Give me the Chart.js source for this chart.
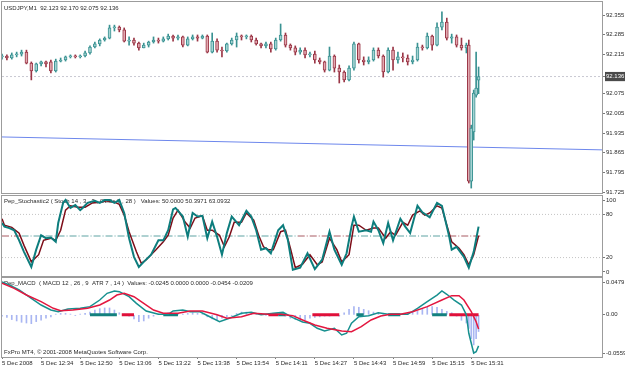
<!DOCTYPE html>
<html>
<head>
<meta charset="UTF-8">
<title>USDJPY,M1</title>
<style>
  body { margin: 0; background: #fff; }
  #wrap { position: relative; width: 625px; height: 368px; overflow: hidden; background: #fff; }
  canvas { position: absolute; left: 0; }
</style>
</head>
<body>
<div id="wrap">
  <canvas id="main" width="625" height="195" style="top:0px"></canvas>
  <canvas id="stoch" width="625" height="82" style="top:195px"></canvas>
  <canvas id="macd" width="625" height="91" style="top:277px"></canvas>
</div>
<script src="https://cdn.jsdelivr.net/npm/chart.js"></script>
<script>
// bar times, in minutes after 12:18
const candleMinutes = [0,2,4,6,8,10,12,14,16,18, 20,22,24,26,28,30,32,34,36,38,
  40,42,44,46,48,50,52,54,56,58, 60,62,64,66,68,70,72,74,76,78,
  80,82,84,86,88,90,92,94,96,98, 100,102,104,106,108,110,112,114,116,118,
  120,122,124,126,128,130,132,134,136,138, 140,142,144,146,148,150,152,154,156,158,
  160,162,164,166,168,170,172,174,176,178, 180,182,184,186,188,190, 191,192,193,194,195];

const opens = [92.206,92.209,92.202,92.213,92.216,92.223,92.184,92.156,92.181,92.188,
  92.188,92.156,92.191,92.195,92.206,92.209,92.206,92.209,92.220,92.241,
  92.252,92.266,92.273,92.309,92.312,92.302,92.262,92.266,92.255,92.238,
  92.248,92.259,92.266,92.262,92.270,92.280,92.273,92.277,92.248,92.270,
  92.277,92.273,92.280,92.223,92.262,92.230,92.227,92.252,92.266,92.280,
  92.277,92.280,92.266,92.252,92.245,92.252,92.234,92.266,92.284,92.248,
  92.238,92.223,92.230,92.213,92.216,92.195,92.188,92.159,92.209,92.166,
  92.152,92.124,92.166,92.252,92.195,92.188,92.195,92.230,92.209,92.152,
  92.230,92.195,92.206,92.202,92.188,92.195,92.241,92.238,92.280,92.248,
  92.312,92.330,92.273,92.277,92.248,92.238, 92.248,91.764,91.939,92.070,92.123];

const highs = [92.216,92.213,92.220,92.223,92.230,92.230,92.188,92.184,92.191,92.191,
  92.195,92.198,92.202,92.209,92.213,92.213,92.213,92.227,92.245,92.259,
  92.270,92.277,92.319,92.319,92.316,92.309,92.277,92.273,92.259,92.255,
  92.262,92.277,92.273,92.277,92.287,92.284,92.284,92.280,92.277,92.284,
  92.284,92.284,92.284,92.291,92.270,92.241,92.255,92.273,92.291,92.284,
  92.284,92.284,92.273,92.255,92.259,92.259,92.273,92.323,92.291,92.252,
  92.245,92.238,92.238,92.223,92.227,92.202,92.191,92.241,92.213,92.177,
  92.156,92.174,92.259,92.255,92.206,92.206,92.238,92.238,92.213,92.238,
  92.241,92.223,92.220,92.213,92.209,92.255,92.248,92.291,92.284,92.327,
  92.366,92.344,92.287,92.284,92.273,92.255, 92.266,91.963,92.088,92.223,92.170];

const lows = [92.198,92.195,92.198,92.206,92.209,92.181,92.124,92.152,92.174,92.170,
  92.149,92.152,92.188,92.191,92.202,92.202,92.202,92.206,92.216,92.238,
  92.245,92.262,92.270,92.298,92.295,92.259,92.248,92.248,92.230,92.238,
  92.241,92.255,92.255,92.259,92.266,92.262,92.266,92.241,92.245,92.266,
  92.262,92.270,92.220,92.220,92.223,92.206,92.223,92.248,92.241,92.266,
  92.270,92.259,92.248,92.238,92.238,92.223,92.230,92.262,92.241,92.230,
  92.213,92.216,92.202,92.206,92.184,92.181,92.152,92.156,92.152,92.113,
  92.117,92.120,92.159,92.184,92.177,92.181,92.191,92.202,92.134,92.149,
  92.159,92.184,92.188,92.177,92.181,92.191,92.230,92.234,92.230,92.245,
  92.302,92.266,92.255,92.241,92.230,92.220, 91.757,91.739,91.910,92.063,92.075];

const closes = [92.209,92.202,92.213,92.216,92.223,92.184,92.156,92.181,92.188,92.181,
  92.156,92.191,92.195,92.206,92.209,92.206,92.209,92.220,92.241,92.252,
  92.266,92.273,92.309,92.312,92.302,92.262,92.266,92.255,92.238,92.248,
  92.259,92.266,92.262,92.270,92.280,92.273,92.277,92.248,92.270,92.277,
  92.273,92.280,92.223,92.262,92.230,92.227,92.252,92.266,92.280,92.277,
  92.280,92.266,92.252,92.245,92.252,92.234,92.266,92.284,92.248,92.238,
  92.223,92.230,92.213,92.216,92.195,92.188,92.159,92.209,92.166,92.152,
  92.124,92.166,92.252,92.195,92.188,92.195,92.230,92.209,92.152,92.230,
  92.195,92.206,92.202,92.188,92.195,92.241,92.238,92.280,92.248,92.312,
  92.330,92.273,92.277,92.248,92.238,92.248, 91.764,91.953,92.077,92.095,92.136];

const lastPrice = 92.136;
const trendStart = 91.921;   // blue trend line at the left edge
const trendEnd = 91.875;     // and at the right edge
const priceTicks = [91.725, 91.795, 91.865, 91.935, 92.005, 92.075, 92.136, 92.215, 92.285, 92.355];

// stochastic
const kMin = [0,1,3,5,7,9,12,14,16,18,20,22,23,25,26,28,30,32,33,35,38,40,42,44,46,48,50,52,54,56,
  58,61,64,66,68,70,71,74,76,78,80,82,84,86,88,90,92,94,97,100,102,104,106,108,110,113,115,117,119,122,
  125,128,131,134,136,139,141,143,144,146,149,151,152,154,156,158,160,163,165,167,170,172,175,178,180,
  183,184,186,189,191,193,195];
const kVal = [68,63,61,58,44,28,7,31,51,47,48,42,68,96,100,89,93,86,89,96,99,96,100,100,96,100,82,47,21,7,
  14,24,44,44,58,87,89,77,49,82,77,78,47,70,49,24,54,77,65,85,77,58,31,33,26,58,65,44,3,6,
  26,4,17,56,31,10,26,63,77,56,58,56,70,58,40,68,44,74,63,54,92,83,76,96,92,
  49,31,35,21,6,28,63.09];
const dMin = [0,1,4,7,9,12,15,17,20,22,24,26,28,31,34,37,40,43,46,48,50,52,55,57,59,63,66,68,70,72,
  75,77,79,82,84,86,89,91,93,95,98,100,103,105,107,109,111,114,116,118,120,123,126,129,131,134,137,139,142,144,
  146,149,152,154,157,159,161,164,166,168,171,173,175,178,180,182,184,187,189,191,193,195];
const dVal = [74,65,62,54,37,14,24,44,47,44,58,86,92,90,90,96,97,99,97,94,79,56,28,12,17,31,42,51,75,86,
  69,61,75,78,58,58,51,35,49,69,69,82,72,51,35,31,31,56,58,33,6,11,24,10,14,47,31,14,24,65,
  65,58,61,61,47,56,51,69,65,79,85,79,82,92,89,65,42,33,24,10,24,50.40];
const stochLevels = [20, 80];
const midRed = [[0, 8], [121, 142], [183, 196]];
const midTeal = [[8, 121], [142, 183]];

// MACD
const macdMin = [0,3,7,12,16,20,23,27,32,36,40,43,46,48,52,55,59,64,68,70,74,77,81,85,89,93,98,102,106,111,
  115,119,123,126,129,132,136,139,141,143,146,150,154,158,162,166,170,174,178,180,182,185,188,190,191,193,194,195];
const macdVal = [0.0479,0.0436,0.0363,0.0241,0.0143,0.0070,0.0045,0.0085,0.0095,0.0119,
  0.0216,0.0314,0.0348,0.0338,0.0265,0.0168,0.0056,0.0007,0.0007,0.0056,
  0.0070,0.0045,0.0045,-0.0028,-0.0101,-0.0051,0.0022,0.0036,0.0000,0.0022,
  0.0036,-0.0042,-0.0105,-0.0124,-0.0197,-0.0237,-0.0197,-0.0295,-0.0270,-0.0124,
  -0.0028,-0.0013,0.0031,0.0007,0.0007,0.0007,0.0095,0.0192,0.0289,0.0348,
  0.0300,0.0216,0.0143,0.0000,-0.0270,-0.0559,-0.0540,-0.0454];
const sigMin = [0,5,10,16,21,24,29,35,40,44,47,50,54,58,62,66,72,77,82,88,92,98,103,109,114,119,123,128,133,139,
  143,147,151,155,159,163,168,174,180,184,187,189,192,194,195];
const sigVal = [0.0461,0.0387,0.0289,0.0192,0.0095,0.0060,0.0070,0.0095,0.0143,0.0216,
  0.0289,0.0314,0.0265,0.0168,0.0070,0.0022,0.0022,0.0056,0.0056,0.0000,
  -0.0051,-0.0028,0.0022,0.0007,0.0007,-0.0013,-0.0076,-0.0149,-0.0197,-0.0237,
  -0.0247,-0.0174,-0.0076,-0.0018,0.0007,0.0007,0.0045,0.0119,0.0216,0.0280,
  0.0280,0.0216,0.0045,-0.0101,-0.0209];
// histogram, one value per candle time
const histVal = [-0.002,-0.004,-0.007,-0.009,-0.011,-0.012,-0.013,-0.010,-0.008,-0.005,
  -0.003,0.001,0.002,0.002,0.001,-0.001,0.001,0.002,0.004,0.007,
  0.009,0.010,0.010,0.007,0.003,0.001,-0.002,-0.006,-0.010,-0.009,
  -0.005,-0.002,0.001,0.002,0.003,0.002,0.002,0.001,0.002,0.003,
  0.002,0.001,-0.003,-0.006,-0.007,-0.005,-0.003,-0.001,0.002,0.004,
  0.004,0.003,0.002,0.001,-0.001,0.001,0.002,0.001,-0.002,-0.005,
  -0.007,-0.008,-0.007,-0.005,-0.004,-0.003,-0.002,-0.002,-0.001,-0.002,
  0.003,0.008,0.012,0.011,0.008,0.006,0.004,0.003,0.002,0.001,
  0.000,0.001,0.001,0.002,0.004,0.005,0.008,0.011,0.012,0.011,
  0.008,0.005,0.003,-0.002,-0.008,-0.012, -0.020,-0.035,-0.044,-0.035,-0.0245];
const zeroRed = [[49, 54], [109, 113], [127, 138], [183, 195]];
const zeroTeal = [[36, 47], [66, 72], [113, 116], [145, 148], [158, 163], [176, 182]];
const macdTicks = [-0.0559, 0, 0.0479];

const timeTickMinutes = [0,16,32,48,64,80,96,112,128,144,160,176,192];
const timeLabels = ['5 Dec 2008','5 Dec 12:34','5 Dec 12:50','5 Dec 13:06','5 Dec 13:22','5 Dec 13:38',
  '5 Dec 13:54','5 Dec 14:11','5 Dec 14:27','5 Dec 14:43','5 Dec 14:59','5 Dec 15:15','5 Dec 15:31'];

const X_MAX = 245.5;
const FONT = { family: '"Liberation Sans", Arial, sans-serif', size: 6 };
const TEXT = '#2a2a2a';
const BULL_FILL = '#a6d3d3', BULL_LINE = '#3a9292';
const BEAR_FILL = '#e2a9b1', BEAR_LINE = '#9a3646';

const isBull = i => closes[i] >= opens[i];
const pts = (xs, ys) => xs.map((x, i) => ({ x: x, y: ys[i] }));
const spans = (list, y) => {
  const out = [];
  list.forEach(s => { out.push({ x: s[0], y: y }, { x: s[1], y: y }, { x: s[1], y: null }); });
  return out;
};

function xAxis(show) {
  return {
    type: 'linear', min: 0, max: X_MAX, display: show, offset: false,
    afterBuildTicks: s => { s.ticks = timeTickMinutes.map(v => ({ value: v })); },
    afterFit: s => {
      if (!show) return;
      s.height = 11; s.paddingLeft = 0; s.paddingRight = 0;
    },
    grid: { offset: false, drawOnChartArea: false, tickLength: 2, color: '#7a7a7a' },
    border: { display: false },
    ticks: {
      align: 'start', maxRotation: 0, autoSkip: false, padding: 1, font: FONT, color: TEXT,
      callback: v => timeLabels[timeTickMinutes.indexOf(v)]
    }
  };
}

function yAxis(min, max, ticks, fmt, extra) {
  return {
    type: 'linear', position: 'right', min: min, max: max, beginAtZero: false,
    afterBuildTicks: s => { s.ticks = ticks.map(v => ({ value: v })); },
    afterFit: s => { s.width = 23; s.paddingTop = 0; s.paddingBottom = 0; },
    grid: { drawOnChartArea: false, tickLength: 3, color: '#7a7a7a' },
    border: { display: true, color: '#9a9a9a' },
    ticks: Object.assign({ padding: 1, font: FONT, color: TEXT, callback: fmt }, extra || {})
  };
}

// pane frame and pane captions
const panePlugin = {
  id: 'pane',
  beforeDatasetsDraw(chart, args, opts) {
    const ctx = chart.ctx;
    ctx.save();
    ctx.font = '6px "Liberation Sans", Arial, sans-serif';
    ctx.fillStyle = TEXT;
    ctx.textBaseline = 'middle';
    (opts.lines || []).forEach(l => ctx.fillText(l[0], l[1], l[2]));
    ctx.restore();
  },
  afterDraw(chart) {
    const { ctx, chartArea: a } = chart;
    ctx.save();
    ctx.strokeStyle = '#9c9c9c';
    ctx.lineWidth = 1;
    ctx.strokeRect(a.left - 0.5, a.top - 0.5, a.right - a.left + 1, a.bottom - a.top + 1);
    ctx.restore();
  }
};

const base = (lines, padding, scales) => ({
  responsive: false, animation: false, events: [],
  layout: { padding: padding },
  plugins: { legend: { display: false }, tooltip: { enabled: false }, pane: { lines: lines } },
  scales: scales
});

// main price pane
new Chart(document.getElementById('main'), {
  type: 'bar',
  plugins: [panePlugin],
  data: {
    datasets: [
      {
        order: 1, grouped: false, barThickness: 3, borderWidth: 1, borderSkipped: false, minBarLength: 1,
        data: candleMinutes.map((m, i) => ({ x: m, y: [opens[i], closes[i]] })),
        backgroundColor: c => isBull(c.dataIndex) ? BULL_FILL : BEAR_FILL,
        borderColor: c => isBull(c.dataIndex) ? BULL_LINE : BEAR_LINE
      },
      {
        order: 2, grouped: false, barThickness: 1, borderWidth: 0,
        data: candleMinutes.map((m, i) => ({ x: m, y: [lows[i], highs[i]] })),
        backgroundColor: c => isBull(c.dataIndex) ? BULL_LINE : BEAR_LINE
      },
      {
        type: 'line', order: 3, borderColor: '#6d87ec', borderWidth: 1, pointRadius: 0,
        data: [{ x: 0, y: trendStart }, { x: X_MAX, y: trendEnd }]
      },
      {
        type: 'line', order: 4, borderColor: '#c9c9d2', borderWidth: 1, borderDash: [2, 2], pointRadius: 0,
        data: [{ x: 0, y: lastPrice }, { x: X_MAX, y: lastPrice }]
      }
    ]
  },
  options: base([['USDJPY,M1  92.123 92.170 92.075 92.136', 4, 8]],
    { left: 2, top: 2, right: 0, bottom: 2 },
    {
      x: xAxis(false),
      y: yAxis(91.7215, 92.4013, priceTicks, v => v.toFixed(3), {
        color: c => c.tick && c.tick.value === lastPrice ? '#ffffff' : TEXT,
        showLabelBackdrop: c => !!(c.tick && c.tick.value === lastPrice),
        backdropColor: '#4a4a4a',
        backdropPadding: 1
      })
    })
});

// stochastic pane
new Chart(document.getElementById('stoch'), {
  type: 'line',
  plugins: [panePlugin],
  data: {
    datasets: [
      { order: 1, data: pts(kMin, kVal), borderColor: '#0d7d7d', borderWidth: 2, pointRadius: 0 },
      { order: 2, data: pts(dMin, dVal), borderColor: '#7d0d18', borderWidth: 1.5, pointRadius: 0 },
      { order: 3, data: spans(midTeal, 50), borderColor: '#5ea3a3', borderWidth: 1, borderDash: [7, 2, 1, 2], pointRadius: 0, spanGaps: false },
      { order: 3, data: spans(midRed, 50), borderColor: '#a85a62', borderWidth: 1, borderDash: [7, 2, 1, 2], pointRadius: 0, spanGaps: false },
      { order: 4, data: spans(stochLevels.map(() => [0, X_MAX]), 0).map((p, i) => p.y === null ? p : { x: p.x, y: stochLevels[Math.floor(i / 3)] }),
        borderColor: '#c4c4c4', borderWidth: 1, borderDash: [1, 2], pointRadius: 0, spanGaps: false }
    ]
  },
  options: base([['Pep_Stochastic2 ( Stoch 14 , 3 , 3 , ObOs 7 , 28 )   Values: 50.0000 50.3971 63.0932', 4, 6.5]],
    { left: 2, top: 1, right: 0, bottom: 1 },
    {
      x: xAxis(false),
      y: yAxis(-5.6, 105.6, [0, 20, 80, 100], v => String(v))
    })
});

// MACD pane
new Chart(document.getElementById('macd'), {
  type: 'bar',
  plugins: [panePlugin],
  data: {
    datasets: [
      { type: 'line', order: 1, data: pts(sigMin, sigVal), borderColor: '#e3173f', borderWidth: 1.5, pointRadius: 0 },
      { type: 'line', order: 2, data: pts(macdMin, macdVal), borderColor: '#17908f', borderWidth: 1.5, pointRadius: 0 },
      { type: 'line', order: 3, data: spans(zeroRed, 0), borderColor: '#e0103a', borderWidth: 3, pointRadius: 0, spanGaps: false },
      { type: 'line', order: 3, data: spans(zeroTeal, 0), borderColor: '#13807f', borderWidth: 3, pointRadius: 0, spanGaps: false },
      { order: 4, grouped: false, barThickness: 1, borderWidth: 0, backgroundColor: '#a9b6f2',
        data: candleMinutes.map((m, i) => ({ x: m, y: [0, histVal[i]] })) }
    ]
  },
  options: base([
      ['Pep_MACD  ( MACD 12 , 26 , 9  ATR 7 , 14 )  Values: -0.0245 0.0000 0.0000 -0.0454 -0.0209', 4, 6.5],
      ['FxPro MT4, \u00a9 2001-2008 MetaQuotes Software Corp.', 4, 75]
    ],
    { left: 2, top: 1, right: 0, bottom: 0 },
    {
      x: xAxis(true),
      y: yAxis(-0.0617, 0.0538, macdTicks, v => v === 0 ? '0.00' : v.toFixed(4))
    })
});
</script>
</body>
</html>
